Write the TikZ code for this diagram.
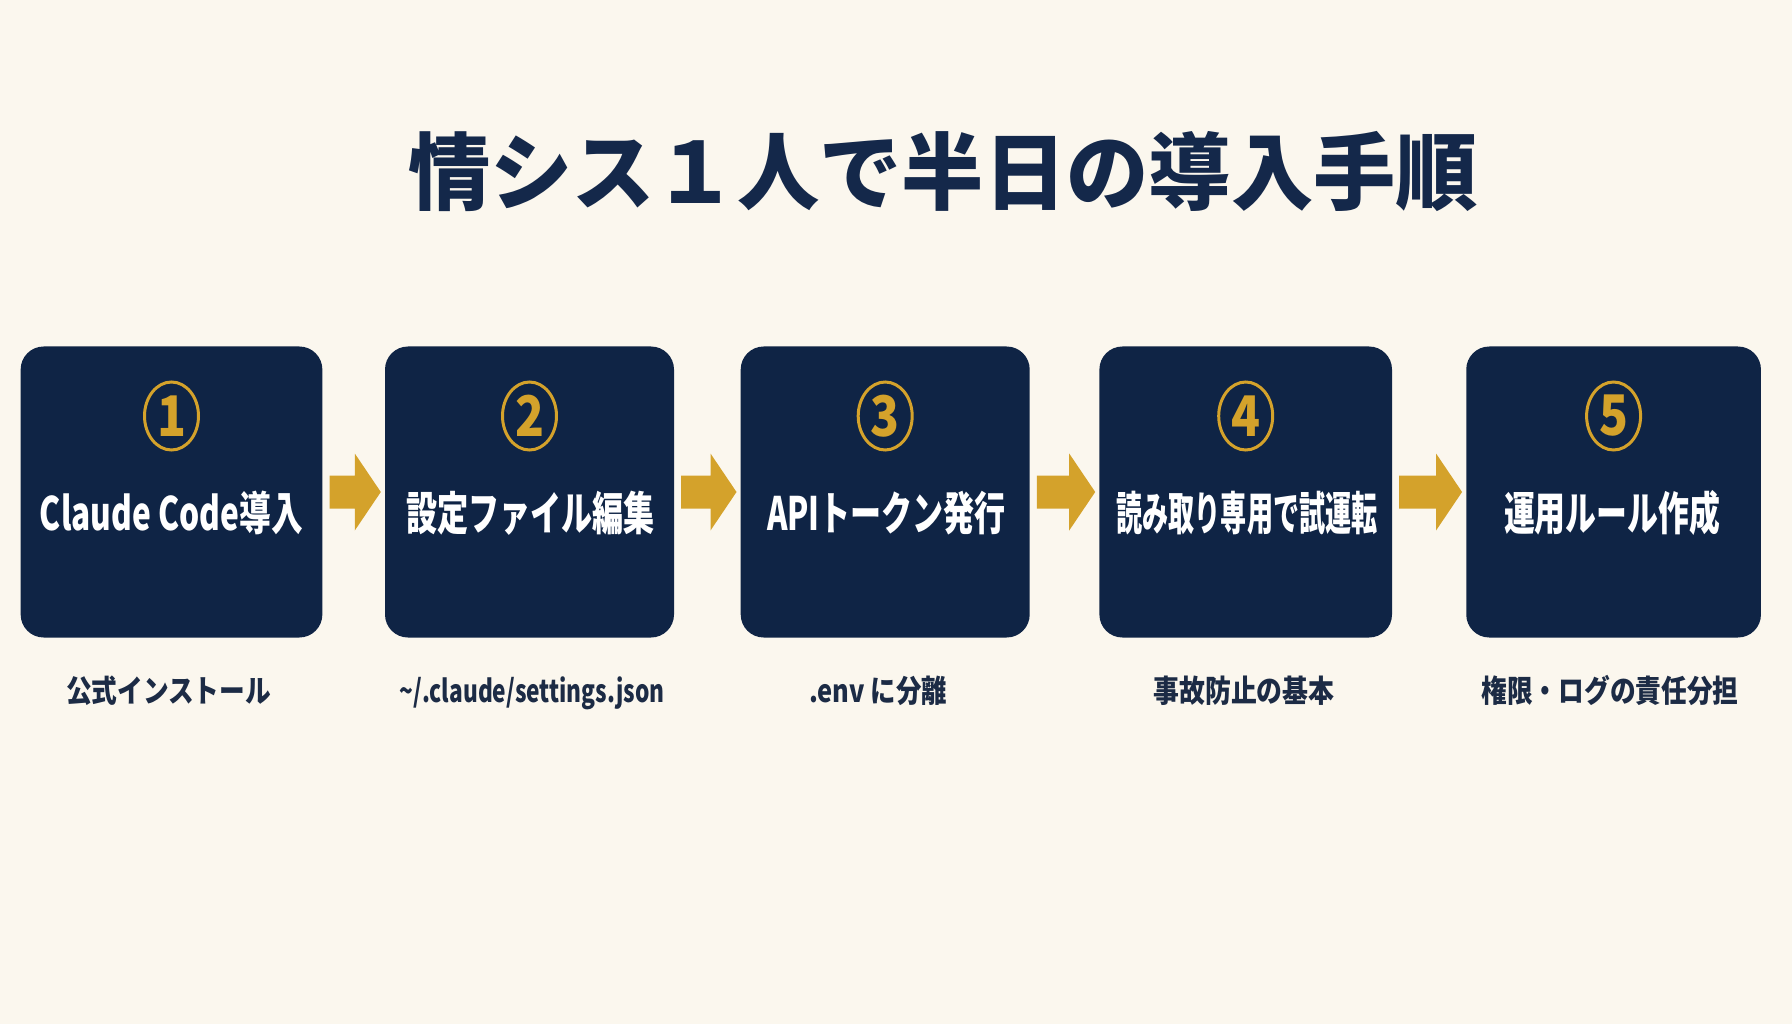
\documentclass[tikz,border=0pt]{standalone}
\usepackage{fontspec}
\usepackage{graphicx}
\newfontfamily\jp{Noto Sans CJK JP}
\usetikzlibrary{calc,shapes.geometric}
\definecolor{bg}{HTML}{FBF7EE}
\definecolor{navy}{HTML}{0F2445}
\definecolor{gold}{HTML}{D4A22B}
\definecolor{ink}{HTML}{14284A}
\definecolor{subink}{HTML}{1C2B45}
\newcommand{\fitw}[2]{\resizebox{#1pt}{\height}{#2}}
\newcommand{\goldarrow}[2]{%
  \fill[gold] let \p1=(#1.east), \p2=(#2.west) in
    (\x1+7pt,\y1+16.5pt) -- (\x2-30pt,\y1+16.5pt) -- (\x2-30pt,\y1+38.5pt) --
    (\x2-4pt,\y1) -- (\x2-30pt,\y1-38.5pt) -- (\x2-30pt,\y1-16.5pt) --
    (\x1+7pt,\y1-16.5pt) -- cycle;}
\begin{document}
\begin{tikzpicture}[x=1pt,y=-1pt,
  stepbox/.style={fill=navy, rounded corners=23pt, minimum height=291pt, inner sep=0pt},
  numring/.style={ellipse, draw=gold, line width=3pt, minimum width=54pt, minimum height=68pt, inner sep=0pt,
     text=gold, font=\jp\bfseries\fontsize{56}{56}\selectfont},
  mainlbl/.style={text=white, inner sep=0pt, font=\jp\bfseries\fontsize{46}{46}\selectfont, text height=38.2pt, text depth=3.2pt},
  sublbl/.style={text=subink, inner sep=0pt, font=\jp\bfseries\fontsize{31}{31}\selectfont, text height=25.7pt, text depth=2.2pt},
  titlelbl/.style={text=ink, inner sep=0pt, font=\jp\bfseries\fontsize{84}{84}\selectfont, text height=69.7pt, text depth=5.9pt}]
\fill[bg] (0,0) rectangle (1792,1024);
\useasboundingbox (0,0) rectangle (1792,1024);

\node[titlelbl] (title) at (943,172) {\fitw{1070}{情シス１人で半日の導入手順}};

\node[stepbox, minimum width=301.7pt] (b1) at (171.5,492) {};
\node[stepbox, minimum width=289pt] (b2) at (529.5,492) {};
\node[stepbox, minimum width=289pt] (b3) at (885.2,492) {};
\node[stepbox, minimum width=292.6pt] (b4) at (1245.7,492) {};
\node[stepbox, minimum width=294.7pt] (b5) at (1613.6,492) {};

\node[numring] (c1) at (171.5,416) {\scalebox{0.85}[1]{1}};
\node[numring] (c2) at (529.5,416) {\scalebox{0.85}[1]{2}};
\node[numring] (c3) at (885.2,416) {\scalebox{0.85}[1]{3}};
\node[numring] (c4) at (1245.7,416) {\scalebox{0.85}[1]{4}};
\node[numring] (c5) at (1613.6,416) {\scalebox{0.85}[1]{5}};

\node[mainlbl] (t1) at (171.5,513) {\fitw{263}{Claude Code導入}};
\node[mainlbl] (t2) at (530.5,513) {\fitw{249}{設定ファイル編集}};
\node[mainlbl] (t3) at (886.5,513) {\fitw{239}{APIトークン発行}};
\node[mainlbl] (t4) at (1247,513) {\fitw{261}{読み取り専用で試運転}};
\node[mainlbl] (t5) at (1612,513) {\fitw{216}{運用ルール作成}};

\node[sublbl] (s1) at (168.5,691) {\fitw{205}{公式インストール}};
\node[sublbl] (s2) at (532,691) {\fitw{265}{\textasciitilde/.claude/settings.json}};
\node[sublbl] (s3) at (878,691) {\fitw{138}{.env に分離}};
\node[sublbl] (s4) at (1244,691) {\fitw{181}{事故防止の基本}};
\node[sublbl] (s5) at (1610,691) {\fitw{257}{権限・ログの責任分担}};

\goldarrow{b1}{b2}
\goldarrow{b2}{b3}
\goldarrow{b3}{b4}
\goldarrow{b4}{b5}
\end{tikzpicture}
\end{document}
